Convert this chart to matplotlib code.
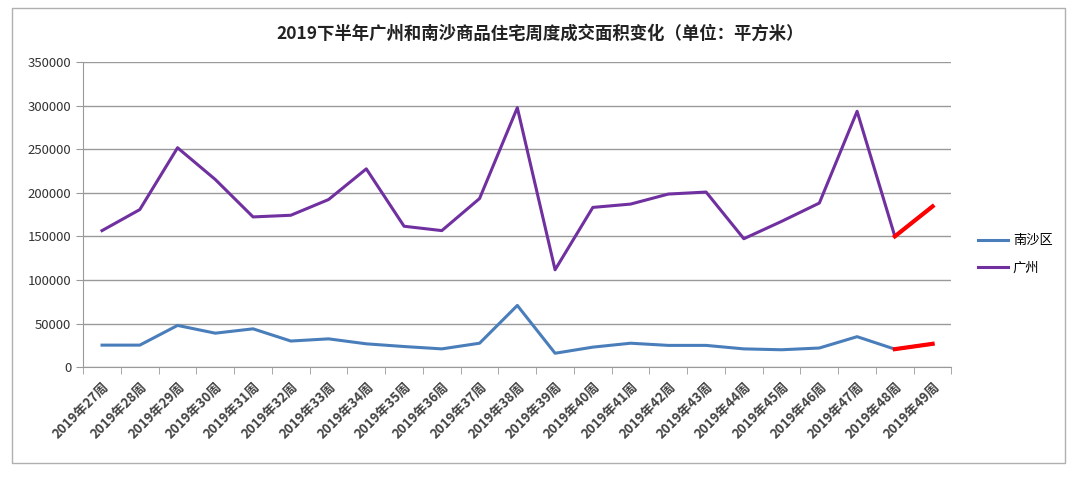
import numpy as np
import matplotlib
matplotlib.use('Agg')
import matplotlib.pyplot as plt
from matplotlib.patches import Rectangle

plt.rcParams['font.family'] = ['Noto Sans CJK SC', 'DejaVu Sans']

# 数据
weeks = ['2019年%d周' % w for w in range(27, 50)]
nansha = [25300, 25300, 47900, 39000, 44000, 30000, 32500, 26800, 23700, 21000, 27500, 70800,
          16000, 23000, 27500, 25000, 25000, 21000, 20000, 22000, 35000, 20700, 26800]
guangzhou = [156600, 180700, 251600, 215200, 172300, 174200, 192200, 227400, 161600, 156600, 193400, 297500,
             111700, 183200, 187000, 198500, 200800, 147300, 167200, 188200, 293400, 150000, 184400]

x = np.arange(len(weeks))

fig = plt.figure(figsize=(10.8, 4.8), dpi=100)
ax = fig.add_axes([0.077, 0.235, 0.804, 0.636])

ax.plot(x, nansha, color='#4a7ebb', lw=2.2, label='南沙区')
ax.plot(x, guangzhou, color='#7030a0', lw=2.2, label='广州')
# 最后一周红色标出
ax.plot(x[-2:], nansha[-2:], color='#ff0000', lw=3)
ax.plot(x[-2:], guangzhou[-2:], color='#ff0000', lw=3)

ax.set_xlim(-0.5, len(weeks) - 0.5)
ax.set_ylim(0, 350000)
ax.set_yticks(np.arange(0, 350001, 50000))
ax.yaxis.grid(True, color='#9a9a9a', lw=1)
ax.set_axisbelow(True)

ax.set_xticks(x)
ax.set_xticklabels(weeks, rotation=45, ha='right', va='top', rotation_mode='anchor', fontsize=9.5,
                   fontweight='bold', color='#444444')
ax.set_xticks(np.arange(-0.5, len(weeks)), minor=True)
ax.tick_params(axis='x', which='major', length=0, pad=9)
ax.tick_params(axis='x', which='minor', length=5, color='#9a9a9a', direction='out')
ax.tick_params(axis='y', length=5, color='#9a9a9a', labelsize=9.5, labelcolor='#333333')

for s in ['top', 'right']:
    ax.spines[s].set_visible(False)
for s in ['left', 'bottom']:
    ax.spines[s].set_color('#9a9a9a')

fig.text(0.5, 0.93, '2019下半年广州和南沙商品住宅周度成交面积变化（单位：平方米）', ha='center', va='center',
         fontsize=12.5, fontweight='bold', color='#222222')

leg = fig.legend(handles=ax.get_lines()[:2], loc='center left', bbox_to_anchor=(0.895, 0.47),
                 frameon=False, fontsize=9.5, handlelength=2.2, labelspacing=1.1, handletextpad=0.4)

fig.patches.append(Rectangle((0.011, 0.035), 0.975, 0.948, transform=fig.transFigure,
                             fill=False, edgecolor='#b0b0b0', lw=1))

fig.savefig('out.png', dpi=100)
